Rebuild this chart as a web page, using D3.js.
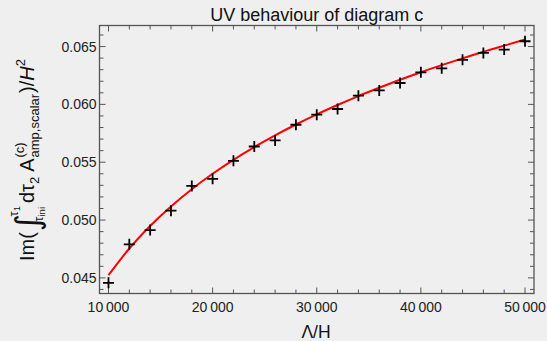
<!DOCTYPE html>
<html><head><meta charset="utf-8">
<script src="https://cdn.jsdelivr.net/npm/d3@7"></script>
<style>
html,body{margin:0;padding:0;background:#efefef;}
svg{display:block;font-family:"Liberation Sans",Arial,sans-serif;}
</style></head>
<body>
<svg id="c" width="547" height="341"></svg>
<script>
const title = "UV behaviour of diagram c";
const xLabel = "\u039B/H";
const lambdaValues = [10000,12000,14000,16000,18000,20000,22000,24000,26000,28000,30000,32000,34000,36000,38000,40000,42000,44000,46000,48000,50000];
const pointValues = [0.04457,0.04790,0.04913,0.05081,0.05295,0.05356,0.05512,0.05636,0.05688,0.05824,0.05911,0.05960,0.06075,0.06121,0.06185,0.06277,0.06312,0.06385,0.06445,0.06474,0.06546];
const fitValues = [0.04523,0.04754,0.04949,0.05118,0.05267,0.05400,0.05521,0.05631,0.05732,0.05826,0.05914,0.05995,0.06072,0.06144,0.06213,0.06278,0.06339,0.06398,0.06455,0.06508,0.06560];
const xTicks = [10000,20000,30000,40000,50000];
const xTickLabels = ["10\u2009000","20\u2009000","30\u2009000","40\u2009000","50\u2009000"];
const yTicks = [0.045,0.050,0.055,0.060,0.065];
const yTickLabels = ["0.045","0.050","0.055","0.060","0.065"];

const svg = d3.select("#c");
const L = 99.5, R = 534, T = 25.5, B = 293.5;
const x = d3.scaleLinear().domain([9137, 50863]).range([L, R]);
const y = d3.scaleLinear().domain([0.04365, 0.06682]).range([B, T]);

const frameCol = "#555";
svg.append("rect").attr("x", L).attr("y", T).attr("width", R-L).attr("height", B-T)
  .attr("fill", "none").attr("stroke", frameCol).attr("stroke-width", 1.3);

const minorX = d3.range(10000, 50001, 2000);
const minorY = d3.range(0.044, 0.0665, 0.001);
const isMajX = v => Math.abs(v/10000 - Math.round(v/10000)) < 1e-6;
const isMajY = v => Math.abs(v/0.005 - Math.round(v/0.005)) < 1e-6;
const tg = svg.append("g").attr("stroke", frameCol).attr("stroke-width", 1);
minorX.forEach(v => {
  const len = isMajX(v) ? 6 : 4;
  const px = x(v);
  tg.append("line").attr("x1", px).attr("x2", px).attr("y1", B).attr("y2", B-len);
  tg.append("line").attr("x1", px).attr("x2", px).attr("y1", T).attr("y2", T+len);
});
minorY.forEach(v => {
  if (y(v) < T || y(v) > B) return;
  const len = isMajY(v) ? 6 : 4;
  const py = y(v);
  tg.append("line").attr("y1", py).attr("y2", py).attr("x1", L).attr("x2", L+len);
  tg.append("line").attr("y1", py).attr("y2", py).attr("x1", R).attr("x2", R-len);
});

svg.append("g").selectAll("text").data(xTicks).join("text")
  .attr("x", d => x(d)).attr("y", 312).attr("text-anchor", "middle")
  .attr("font-size", 14).attr("fill", "#222").text((d,i) => xTickLabels[i]);
svg.append("g").selectAll("text").data(yTicks).join("text")
  .attr("x", 96.5).attr("y", d => y(d) + 5).attr("text-anchor", "end")
  .attr("font-size", 14).attr("fill", "#222").text((d,i) => yTickLabels[i]);

svg.append("text").attr("x", (L+R)/2).attr("y", 20.5).attr("text-anchor", "middle")
  .attr("font-size", 18).attr("fill", "#111").text(title);
svg.append("text").attr("x", 316).attr("y", 338).attr("text-anchor", "middle")
  .attr("font-size", 17.5).attr("fill", "#111").text(xLabel);

const line = d3.line().x((d,i) => x(lambdaValues[i])).y(d => y(d)).curve(d3.curveMonotoneX);
svg.append("path").datum(fitValues).attr("d", line).attr("fill", "none")
  .attr("stroke", "#ff0000").attr("stroke-width", 2);

const s = 5.5;
svg.append("g").selectAll("path").data(pointValues).join("path")
  .attr("d", (d,i) => { const px = x(lambdaValues[i]), py = y(d);
    return `M${px-s},${py}H${px+s}M${px},${py-s}V${py+s}`; })
  .attr("stroke", "#000").attr("stroke-width", 1.8).attr("fill", "none");

// y label
const yl = svg.append("g").attr("transform", "translate(34,160) rotate(-90)");
let cx = 0;
function piece(txt, size, dy, opts) {
  opts = opts || {};
  const t = yl.append("text").attr("x", cx).attr("y", dy).attr("font-size", size)
    .attr("fill", "#111").text(txt);
  if (opts.italic) t.attr("font-style", "italic");
  if (opts.family) t.attr("font-family", opts.family);
  const w = t.node().getComputedTextLength();
  if (!opts.noAdvance) cx += w;
  return w;
}
const F = 20, S = 13, SS = 9.5;
piece("Im(", F, 0);
cx += 1;
const intStart = cx;
const wi = piece("\u222B", 33, 5, {family: "DejaVu Sans"});
cx = intStart + wi * 0.85;
let w1 = piece("\u03C4", S, -16, {noAdvance: true});
cx += w1; const w1b = piece("1", SS, -14, {noAdvance: true});
cx = intStart + wi * 0.55;
const w2 = piece("\u03C4", S, 9, {noAdvance: true});
cx += w2; const w3 = piece("ini", SS, 11, {noAdvance: true});
cx = Math.max(intStart + wi*0.85 + w1 + w1b, intStart + wi*0.55 + w2 + w3) + 3;
piece("d\u03C4", F, 0);
piece("2", S, 5);
cx += 5;
piece("A", F, 0);
const subStart = cx + 1;
cx = subStart;
const wc = piece("(c)", S, -10, {noAdvance: true});
cx = subStart;
const wsub = piece("amp,scalar", S, 5, {noAdvance: true});
cx = subStart + Math.max(wc, wsub) + 1;
piece(")/", F, 0);
piece("H", F, 0, {italic: true});
piece("2", S, -9);
const total = cx;
yl.selectAll("text").each(function() {
  const el = d3.select(this);
  el.attr("x", +el.attr("x") - total/2);
});
</script>
</body></html>
